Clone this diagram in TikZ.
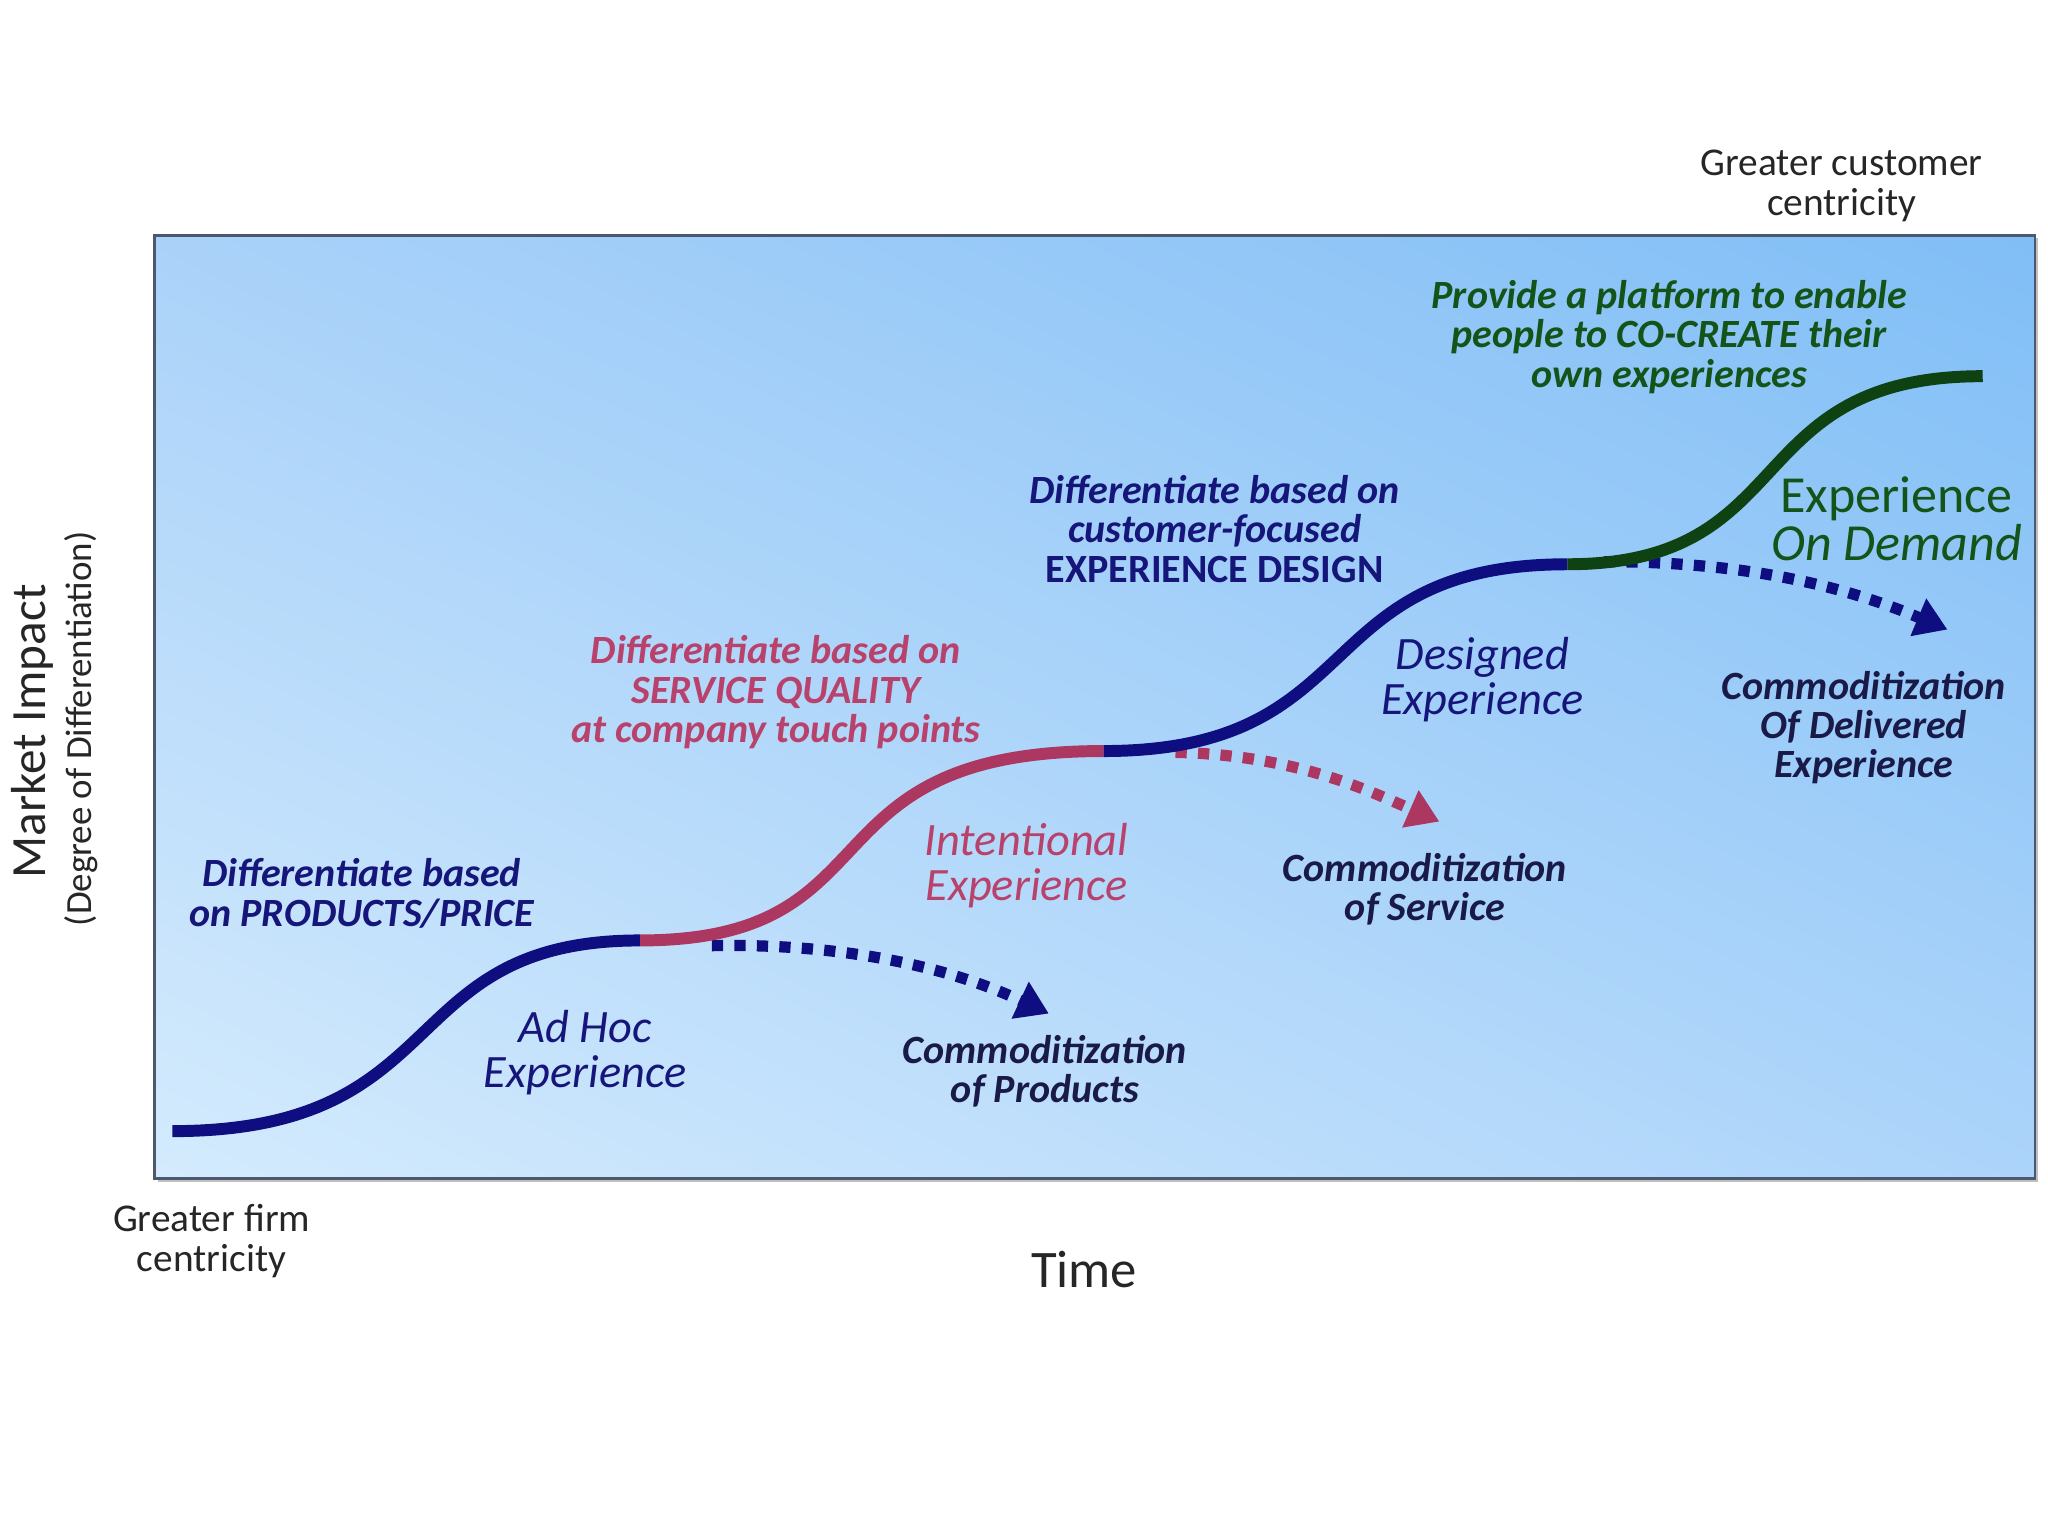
\documentclass[tikz,border=0pt]{standalone}
\usepackage{fontspec}
\setmainfont{Carlito}
\usetikzlibrary{arrows.meta,shadings}

\definecolor{curvenavy}{RGB}{14,14,128}
\definecolor{curvemag}{RGB}{172,56,98}
\definecolor{curvegreen}{RGB}{14,66,18}
\definecolor{txtnavy}{RGB}{22,22,122}
\definecolor{txtdark}{RGB}{26,26,72}
\definecolor{txtmag}{RGB}{184,66,108}
\definecolor{txtgreen}{RGB}{20,84,24}
\definecolor{bgtl}{RGB}{170,210,249}
\definecolor{bgtr}{RGB}{128,190,246}
\definecolor{bgbl}{RGB}{212,235,253}
\definecolor{bgbr}{RGB}{172,212,250}
\definecolor{frame}{RGB}{76,88,110}

\tikzset{
  stage/.style={line width=3.4pt},
  fade/.style={line width=3.2pt, dash pattern=on 3.2pt off 3.2pt,
    -{Triangle[length=9pt,width=11pt]}},
  hint/.style={align=center, font=\bfseries\itshape\fontsize{11.4}{11.2}\selectfont},
  phase/.style={align=center, font=\itshape\fontsize{13.2}{12.8}\selectfont},
  axislbl/.style={align=center, text=black!85}
}

\begin{document}
\begin{tikzpicture}[x=0.1306mm, y=-0.1306mm]
  \useasboundingbox (0,0) rectangle (1568,1176);
  \shade[upper left=bgtl, upper right=bgtr, lower left=bgbl, lower right=bgbr]
    (118,180) rectangle (1558,902);
  \draw[black!25, line width=1.2pt] (121,903) -- (1559,903) -- (1559,182);
  \draw[frame, line width=0.8pt] (118,180) rectangle (1558,902);

  % junctions of the curve
  \coordinate (c0) at (132,866);
  \coordinate (c1) at (490,720);
  \coordinate (c2) at (845,575);
  \coordinate (c3) at (1200,432);
  \coordinate (c4) at (1518,288);

  % dotted commoditization arrows
  \coordinate (p1) at (545,724);  \coordinate (q1) at (803,776);
  \coordinate (p2) at (900,576);  \coordinate (q2) at (1102,629);
  \coordinate (p3) at (1228,430); \coordinate (q3) at (1491,482);
  \draw[fade, curvenavy] (p1) .. controls (650,722) and (730,742) .. (q1);
  \draw[fade, curvemag] (p2) .. controls (990,578) and (1045,604) .. (q2);
  \draw[fade, curvenavy] (p3) .. controls (1340,430) and (1415,450) .. (q3);

  \draw[stage, curvenavy] (c0) .. controls (350,866) and (300,720) .. (c1);
  \draw[stage, curvemag] (c1) .. controls (690,720) and (610,575) .. (c2);
  \draw[stage, curvenavy] (c2) .. controls (1050,575) and (1000,432) .. (c3);
  \draw[stage, curvegreen] (c3) .. controls (1380,432) and (1330,288) .. (c4);

  % labels
  \node[hint, text=txtnavy] (prod) at (277,684) {Differentiate based\\on PRODUCTS/PRICE};
  \node[phase, text=txtnavy] (adhoc) at (448,806) {Ad Hoc\\Experience};
  \node[hint, text=txtdark] (cprod) at (800,820) {Commoditization\\of Products};
  \node[hint, text=txtmag] (svc) at (594,530) {Differentiate based on\\SERVICE QUALITY\\at company touch points};
  \node[phase, text=txtmag] (intent) at (786,663) {Intentional\\Experience};
  \node[hint, text=txtdark] (csvc) at (1091,681) {Commoditization\\of Service};
  \node[hint, text=txtnavy] (design) at (930,405) {Differentiate based on\\customer-focused\\\textup{EXPERIENCE DESIGN}};
  \node[phase, text=txtnavy] (designed) at (1135,520) {Designed\\Experience};
  \node[hint, text=txtgreen] (cocreate) at (1278,258) {Provide a platform to enable\\people to CO-CREATE their\\own experiences};
  \node[align=center, text=txtgreen, font=\fontsize{14.8}{13.6}\selectfont] (demand) at (1452,397)
    {Experience\\\textit{On Demand}};
  \node[hint, text=txtdark] (cdeliv) at (1427,557) {Commoditization\\Of Delivered\\Experience};

  % axes
  \node[axislbl, font=\fontsize{11.2}{11.4}\selectfont] (cust) at (1410,142) {Greater customer\\centricity};
  \node[axislbl, font=\fontsize{11.2}{11.4}\selectfont] (firm) at (162,950) {Greater firm\\centricity};
  \node[axislbl, font=\fontsize{15}{15}\selectfont] (time) at (830,972) {Time};
  \node[axislbl, rotate=90, font=\fontsize{14}{14}\selectfont] (impact) at (25,560) {Market Impact};
  \node[axislbl, rotate=90, font=\fontsize{10.5}{11}\selectfont] (degree) at (62,558) {(Degree of Differentiation)};
\end{tikzpicture}
\end{document}
